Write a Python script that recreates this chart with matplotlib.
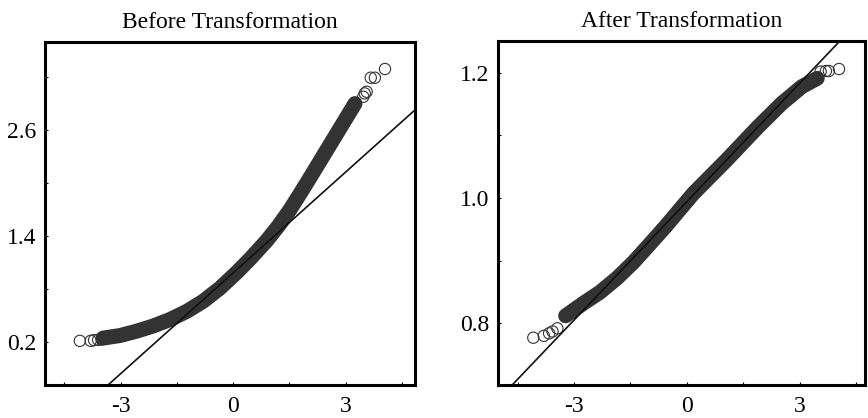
"""QQ plots before / after transformation."""
import numpy as np
import matplotlib; matplotlib.use('Agg'); import matplotlib.pyplot as plt

plt.rcParams.update({'font.family':'Liberation Serif','font.size':17,
    'xtick.direction':'in','ytick.direction':'in','xtick.major.size':2.5,'ytick.major.size':2.5,
    'xtick.major.width':0.8,'ytick.major.width':0.8,'xtick.major.pad':8,'ytick.major.pad':6})
BAND='#333333'; INK='#111111'

# ---- data (theoretical quantile, sample quantile) ----
before_band_q=[-3.47,-3.02,-2.58,-2.13,-1.69,-1.24,-0.80,-0.35,0.09,0.45,0.89,1.20,1.51,1.80,2.03,2.29,2.58,3.01,3.25]
before_band_v=[0.242,0.271,0.320,0.380,0.452,0.545,0.660,0.810,0.985,1.140,1.345,1.510,1.695,1.890,2.048,2.230,2.433,2.734,2.902]
before_tail_q=[-4.09,-3.80,-3.71,-3.60,-3.51,3.47,3.51,3.56,3.67,3.78,4.05]
before_tail_v=[0.211,0.211,0.219,0.222,0.226,2.979,3.017,3.036,3.195,3.195,3.294]
before_line=(0.982,0.381)   # intercept, slope

after_band_q=[-3.22,-2.75,-2.31,-1.86,-1.42,-0.98,-0.53,-0.18,0.18,1.06,1.90,2.53,3.06,3.47]
after_band_v=[0.812,0.8319,0.8495,0.8718,0.8974,0.9266,0.9569,0.9820,1.0075,1.0607,1.1138,1.1512,1.1777,1.191]
after_tail_q=[-4.08,-3.80,-3.66,-3.57,-3.44,3.56,3.70,3.78,4.05]
after_tail_v=[0.777,0.780,0.784,0.787,0.792,1.2017,1.2027,1.2027,1.2059]
after_line=(0.994,0.063)

x_ticks=[-4.5,-3,-1.5,0,1.5,3,4.5]; x_labels=['','-3','','0','','3','']
before_yticks=[0.2,0.8,1.4,2.0,2.6,3.2]; before_ylabels=['0.2','','1.4','','2.6','']
after_yticks=[0.8,0.9,1.0,1.1,1.2]; after_ylabels=['0.8','','1.0','','1.2']

fig=plt.figure(figsize=(8.68,4.18),dpi=100)
axL=fig.add_axes([0.0518,0.0789,0.4263,0.8206])
axR=fig.add_axes([0.5737,0.0789,0.4228,0.8230])

def qq(ax,bq,bv,tq,tv,line,title,yt,yl,xlim,ylim):
    ax.plot(bq,bv,color=BAND,lw=10.8,solid_capstyle='round',solid_joinstyle='round',zorder=2)
    ax.scatter(tq,tv,s=66,facecolors='none',edgecolors=BAND,linewidths=0.8,zorder=3)
    ax.axline((0,line[0]),slope=line[1],color=INK,lw=1.2,zorder=4)
    ax.set_xlim(*xlim); ax.set_ylim(*ylim)
    ax.set_xticks(x_ticks); ax.set_xticklabels(x_labels)
    ax.set_yticks(yt); ax.set_yticklabels(yl)
    for s in ax.spines.values(): s.set_linewidth(2.2); s.set_color('black')
    ax.set_title(title,fontsize=17,pad=10)

qq(axL,before_band_q,before_band_v,before_tail_q,before_tail_v,before_line,'Before Transformation',
   before_yticks,before_ylabels,(-5.02,4.85),(-0.29,3.60))
qq(axR,after_band_q,after_band_v,after_tail_q,after_tail_v,after_line,'After Transformation',
   after_yticks,after_ylabels,(-5.02,4.74),(0.7015,1.2506))
fig.savefig('out.png',dpi=100)
